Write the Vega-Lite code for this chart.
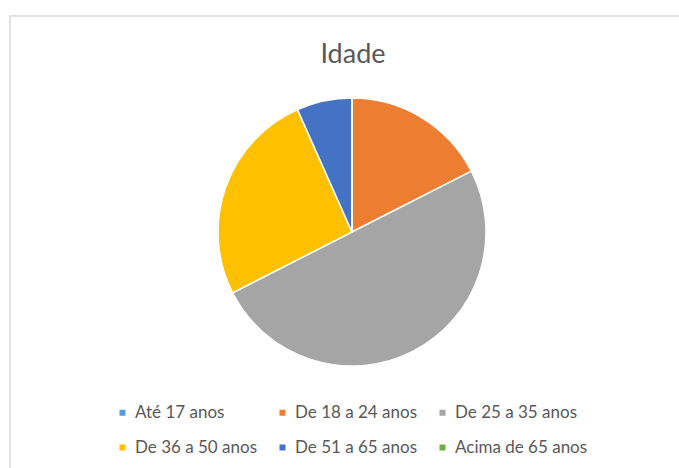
{
  "$schema": "https://vega.github.io/schema/vega-lite/v6.json",
  "autosize": "none",
  "padding": {"left": 10, "top": 16, "right": 0, "bottom": 0},
  "width": 680,
  "height": 460,
  "background": "white",
  "title": {
    "text": "Idade",
    "font": "Lato",
    "fontSize": 27,
    "fontWeight": "normal",
    "color": "#595959",
    "anchor": "middle",
    "frame": "group",
    "dy": 58,
    "dx": 3
  },
  "layer": [
    {
      "data": {"values": [{"moldura": "borda"}]},
      "mark": {"type": "rect", "fill": null, "stroke": "#d9d9d9", "strokeWidth": 1.5},
      "encoding": {}
    },
    {
      "data": {
        "values": [
          {"faixa": "Até 17 anos", "n": 0, "ordem": 1},
          {"faixa": "De 18 a 24 anos", "n": 21, "ordem": 2},
          {"faixa": "De 25 a 35 anos", "n": 60, "ordem": 3},
          {"faixa": "De 36 a 50 anos", "n": 31, "ordem": 4},
          {"faixa": "De 51 a 65 anos", "n": 8, "ordem": 5},
          {"faixa": "Acima de 65 anos", "n": 0, "ordem": 6}
        ]
      },
      "mark": {"type": "arc", "outerRadius": 134, "stroke": "white", "strokeWidth": 1.5, "xOffset": 2, "yOffset": -14},
      "encoding": {
        "theta": {"field": "n", "type": "quantitative", "stack": true},
        "order": {"field": "ordem", "type": "quantitative"},
        "color": {
          "field": "faixa",
          "type": "nominal",
          "scale": {
            "domain": ["Até 17 anos", "De 18 a 24 anos", "De 25 a 35 anos", "De 36 a 50 anos", "De 51 a 65 anos", "Acima de 65 anos"],
            "range": ["#5B9BD5", "#ED7D31", "#A5A5A5", "#FFC000", "#4472C4", "#70AD47"]
          },
          "legend": {
            "title": null,
            "orient": "none",
            "legendX": 104,
            "legendY": 388,
            "direction": "horizontal",
            "columns": 3,
            "columnPadding": 16,
            "rowPadding": 17,
            "symbolType": "square",
            "symbolSize": 36,
            "symbolStrokeWidth": 0,
            "labelOffset": 4,
            "labelFont": "Lato",
            "labelFontSize": 17,
            "labelColor": "#595959",
            "labelLimit": 250
          }
        }
      }
    }
  ]
}
